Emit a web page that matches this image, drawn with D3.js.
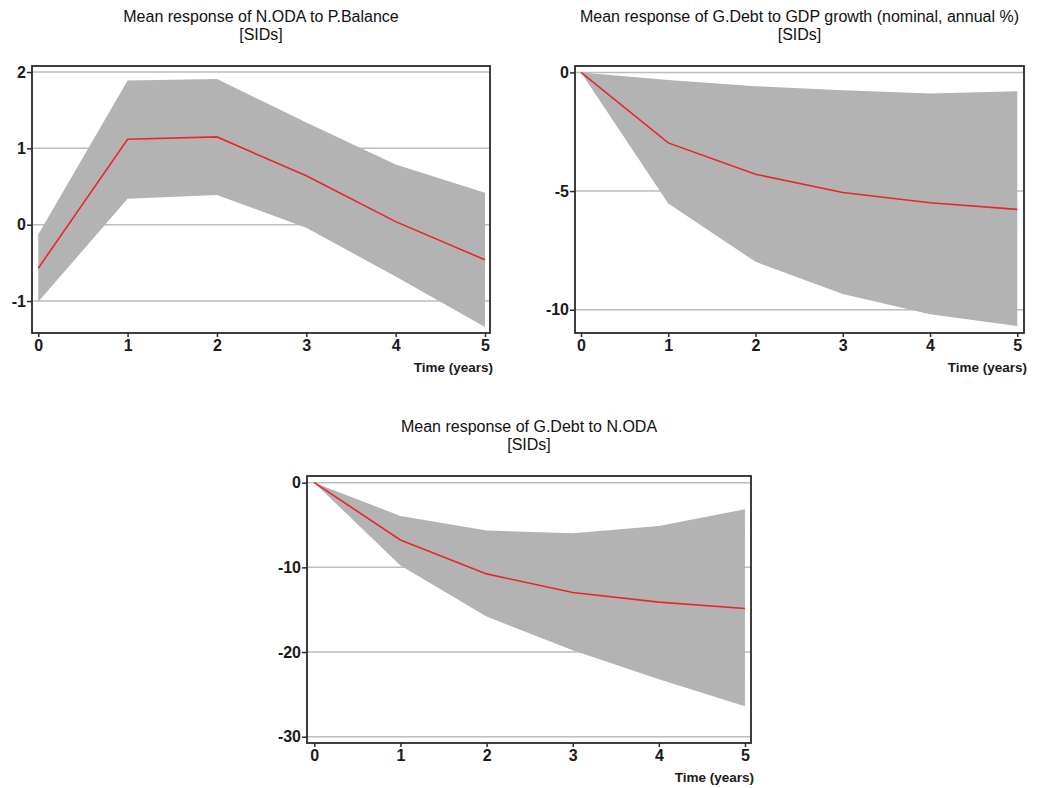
<!DOCTYPE html>
<html>
<head>
<meta charset="utf-8">
<script src="https://cdn.jsdelivr.net/npm/d3@7"></script>
<style>
  body { margin: 0; background: #fff; }
  svg { display: block; font-family: "Liberation Sans", Arial, sans-serif; }
</style>
</head>
<body>
<svg></svg>
<script>
// horizon (years)
const years = [0, 1, 2, 3, 4, 5];

// N.ODA to P.Balance
const odaMean  = [-0.57, 1.12, 1.15, 0.64, 0.04, -0.46];
const odaUpper = [-0.13, 1.89, 1.91, 1.34, 0.79, 0.42];
const odaLower = [-1.01, 0.34, 0.39, -0.04, -0.68, -1.34];
const odaTicks = [-1, 0, 1, 2];

// G.Debt to GDP growth
const gdpMean  = [0, -2.97, -4.29, -5.06, -5.49, -5.77];
const gdpUpper = [0, -0.32, -0.58, -0.75, -0.89, -0.79];
const gdpLower = [0, -5.52, -7.98, -9.34, -10.19, -10.69];
const gdpTicks = [-10, -5, 0];

// G.Debt to N.ODA
const debtMean  = [0, -6.76, -10.77, -12.97, -14.10, -14.86];
const debtUpper = [0, -3.93, -5.66, -5.97, -5.10, -3.14];
const debtLower = [0, -9.79, -15.80, -19.80, -23.20, -26.40];
const debtTicks = [-30, -20, -10, 0];

const titles = [
  "Mean response of N.ODA to P.Balance",
  "Mean response of G.Debt to GDP growth (nominal, annual %)",
  "Mean response of G.Debt to N.ODA"
];
const subtitle = "[SIDs]";
const xLabel = "Time (years)";

const width = 1039, height = 788;
const svg = d3.select("svg")
  .attr("width", width)
  .attr("height", height)
  .attr("viewBox", [0, 0, width, height]);

// plain hyphen minus, as in the original figure
const fmt = d => String(d);

function panel({left, top, w, h, xDomain, yDomain, mean, upper, lower, ticks, title}) {
  const x = d3.scaleLinear().domain(xDomain).range([left, left + w]);
  const y = d3.scaleLinear().domain(yDomain).range([top + h, top]);
  const g = svg.append("g");
  const rows = years.map((t, i) => ({t, m: mean[i], u: upper[i], l: lower[i]}));

  // grid lines
  g.append("g")
    .selectAll("line")
    .data(ticks)
    .join("line")
    .attr("x1", left).attr("x2", left + w)
    .attr("y1", d => y(d)).attr("y2", d => y(d))
    .attr("stroke", "#bdbdbd")
    .attr("stroke-width", 1.5);

  // confidence band
  g.append("path")
    .datum(rows)
    .attr("fill", "#b3b3b3")
    .attr("d", d3.area().x(d => x(d.t)).y0(d => y(d.l)).y1(d => y(d.u)));

  // mean response
  g.append("path")
    .datum(rows)
    .attr("fill", "none")
    .attr("stroke", "#e8262b")
    .attr("stroke-width", 1.6)
    .attr("d", d3.line().x(d => x(d.t)).y(d => y(d.m)));

  // frame
  g.append("rect")
    .attr("x", left).attr("y", top)
    .attr("width", w).attr("height", h)
    .attr("fill", "none")
    .attr("stroke", "#2a2a2a")
    .attr("stroke-width", 1.8);

  // y axis
  g.append("g")
    .attr("transform", `translate(${left},0)`)
    .call(d3.axisLeft(y).tickValues(ticks).tickFormat(fmt).tickSize(5).tickPadding(1).tickSizeOuter(0))
    .call(a => a.select(".domain").remove())
    .call(a => a.selectAll(".tick line").attr("stroke", "#2a2a2a").attr("stroke-width", 1.5))
    .call(a => a.selectAll(".tick text")
      .attr("fill", "#1a1a1a")
      .style("font-size", "16px")
      .style("font-weight", "bold")
      .attr("font-family", null));

  // x axis
  g.append("g")
    .attr("transform", `translate(0,${top + h})`)
    .call(d3.axisBottom(x).tickValues(years).tickFormat(fmt).tickSize(4).tickPadding(3).tickSizeOuter(0))
    .call(a => a.select(".domain").remove())
    .call(a => a.selectAll(".tick line").attr("stroke", "#2a2a2a").attr("stroke-width", 1.5))
    .call(a => a.selectAll(".tick text")
      .attr("fill", "#1a1a1a")
      .style("font-size", "16px")
      .style("font-weight", "bold")
      .attr("font-family", null));

  g.append("text")
    .attr("x", left + w + 3)
    .attr("y", top + h + 39)
    .attr("text-anchor", "end")
    .attr("fill", "#1a1a1a")
    .style("font-size", "13.5px")
    .style("font-weight", "bold")
    .text(xLabel);

  // title
  const cx = left + w / 2;
  g.append("text")
    .attr("x", cx).attr("y", top - 44)
    .attr("text-anchor", "middle")
    .attr("fill", "#111")
    .style("font-size", "16px")
    .text(title);
  g.append("text")
    .attr("x", cx).attr("y", top - 26)
    .attr("text-anchor", "middle")
    .attr("fill", "#111")
    .style("font-size", "16px")
    .text(subtitle);
}

panel({left: 32, top: 66, w: 458, h: 267,
  xDomain: [-0.07, 5.056], yDomain: [-1.419, 2.079],
  mean: odaMean, upper: odaUpper, lower: odaLower, ticks: odaTicks, title: titles[0]});

panel({left: 575, top: 66, w: 449, h: 267,
  xDomain: [-0.069, 5.077], yDomain: [-10.98, 0.27],
  mean: gdpMean, upper: gdpUpper, lower: gdpLower, ticks: gdpTicks, title: titles[1]});

panel({left: 307, top: 476, w: 444, h: 267,
  xDomain: [-0.085, 5.07], yDomain: [-30.74, 0.79],
  mean: debtMean, upper: debtUpper, lower: debtLower, ticks: debtTicks, title: titles[2]});
</script>
</body>
</html>
